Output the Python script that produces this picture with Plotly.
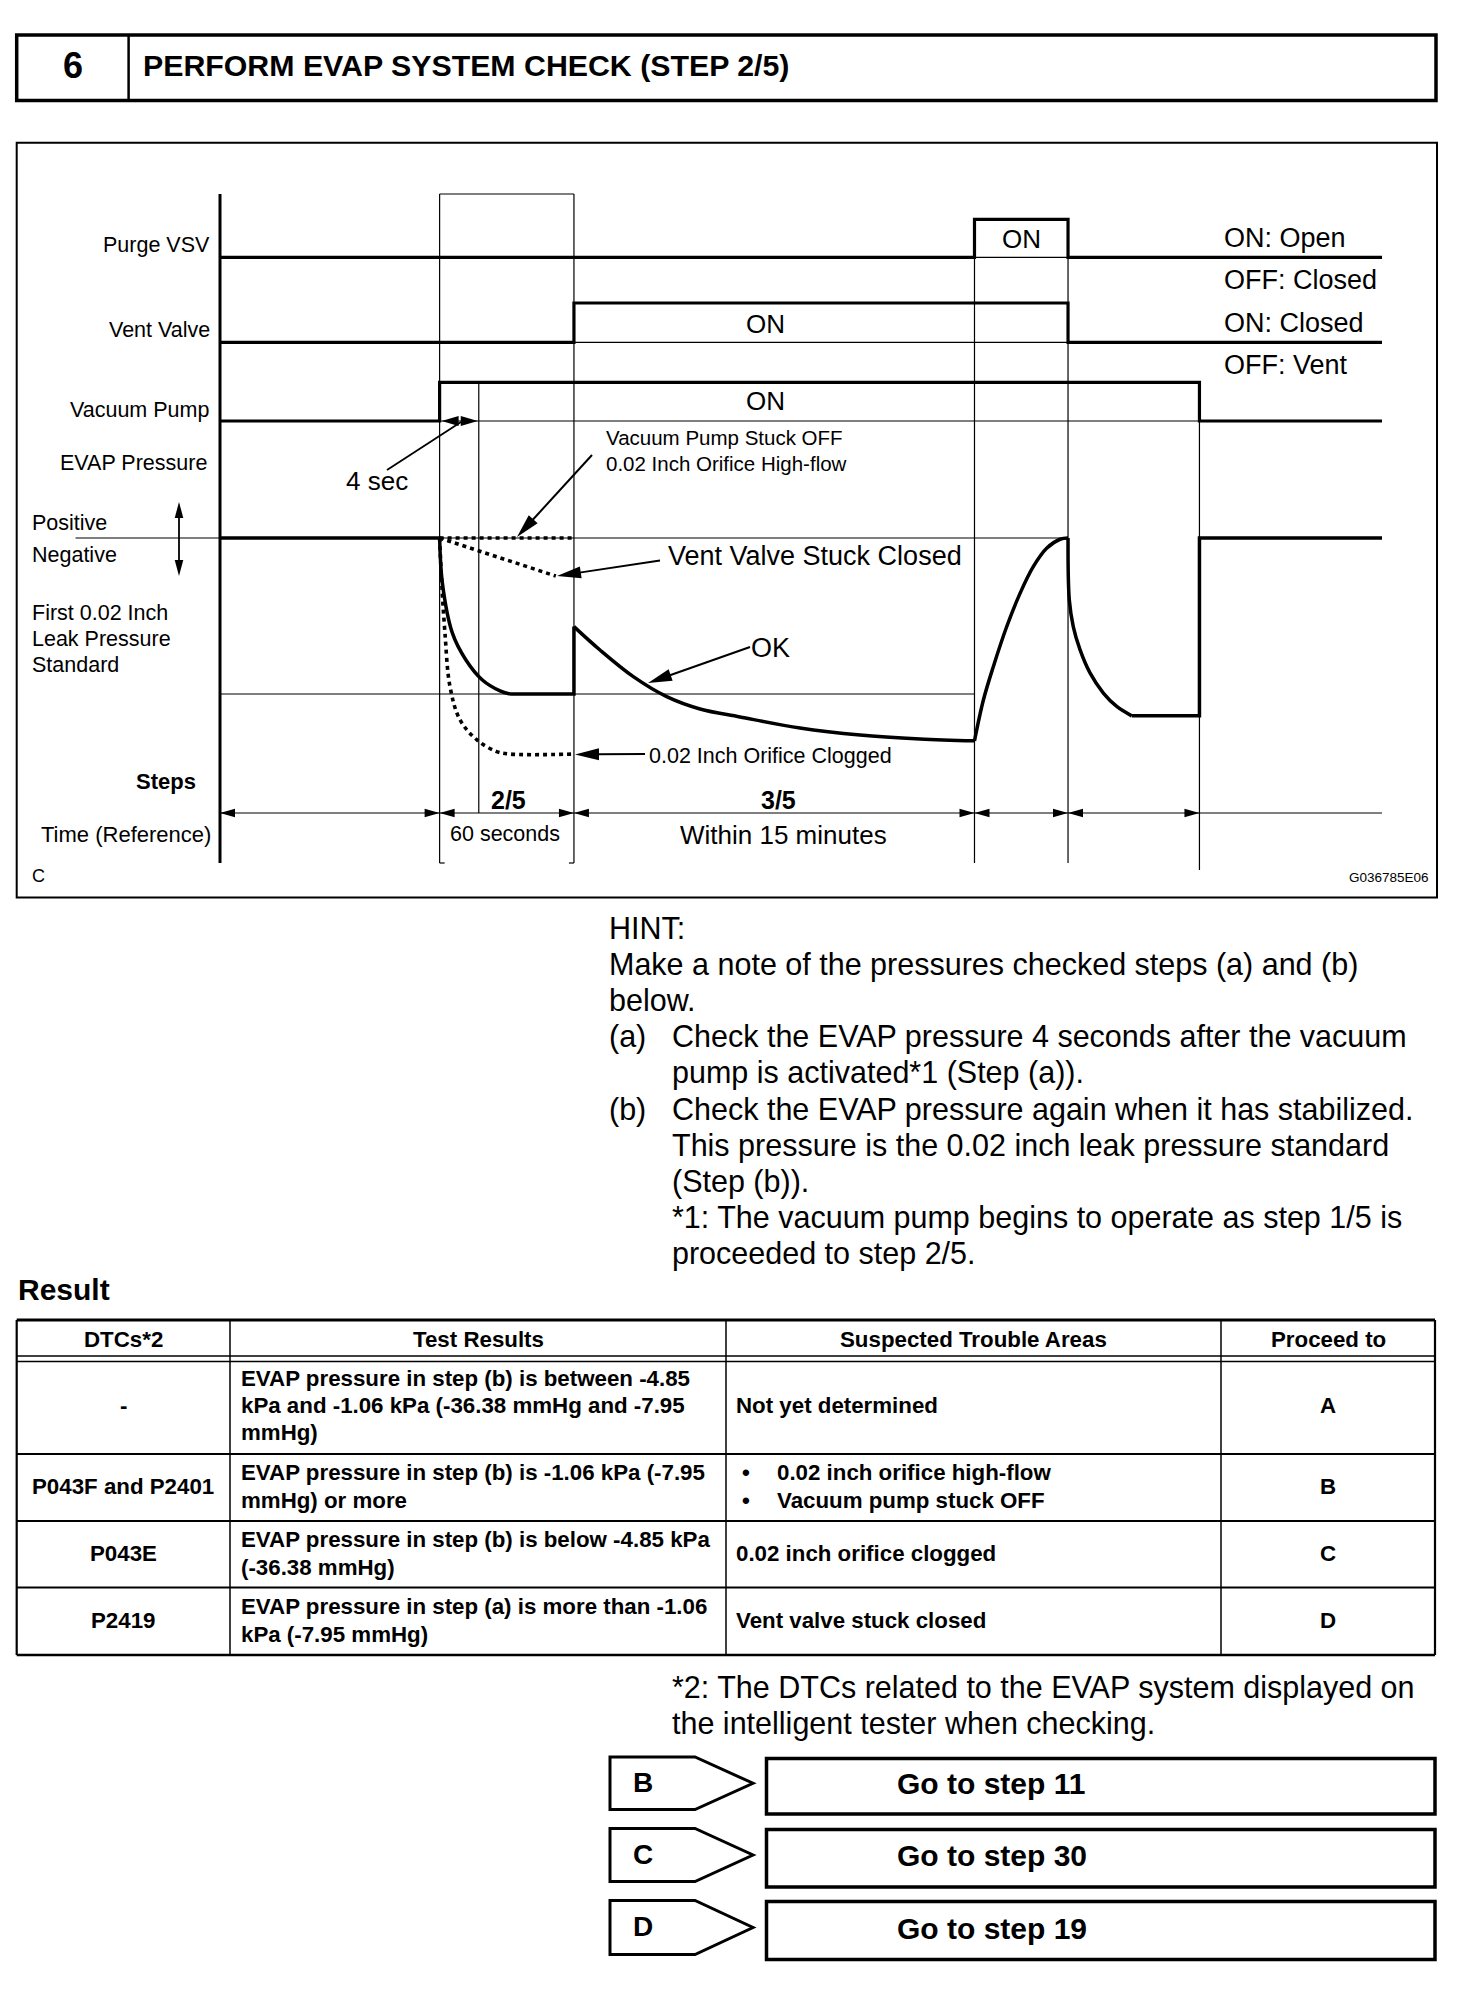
import math
import plotly.graph_objects as go

W, H = 1472, 2016
FONT = "Liberation Sans, Arial, Helvetica, sans-serif"

# ---------------- data ----------------
# schematic time axis of the timing chart (0..100 units, not to scale)
event_names = ["Vacuum pump ON", "+4 sec", "Vent valve ON", "Purge VSV ON",
               "Purge VSV OFF / Vent valve OFF", "Vacuum pump OFF"]
event_t = [18.9, 22.27, 30.46, 64.93, 72.98, 84.29]
t_end = 100.0

purge_t = [0, 64.93, 64.93, 72.98, 72.98, 100]
purge_state = [0, 0, 1, 1, 0, 0]
vent_t = [0, 30.46, 30.46, 72.98, 72.98, 100]
vent_state = [0, 0, 1, 1, 0, 0]
pump_t = [0, 18.9, 18.9, 84.29, 84.29, 100]
pump_state = [0, 0, 1, 1, 0, 0]

# EVAP pressure (relative): 0 = atmospheric, -1 = first 0.02 inch leak pressure standard
leak_standard = -1.0
ok_pre_t = [0, 18.9]
ok_pre_p = [0, 0]
ok_drop_t = [18.9, 19.14, 20.0, 21.15, 22.58, 24.1, 24.96]
ok_drop_p = [0, -0.29, -0.61, -0.78, -0.91, -0.98, -1.0]
ok_hold_t = [24.96, 30.46, 30.46]
ok_hold_p = [-1.0, -1.0, -0.568]
ok_decay_t = [30.46, 32.70, 35.57, 38.44, 41.31, 44.75, 49.91, 55.08, 60.24, 64.93]
ok_decay_p = [-0.568, -0.718, -0.889, -1.017, -1.096, -1.147, -1.218, -1.263, -1.288, -1.30]
ok_rise_t = [64.93, 65.69, 66.55, 67.70, 68.85, 69.99, 71.14, 72.29, 72.98]
ok_rise_p = [-1.30, -1.04, -0.825, -0.569, -0.355, -0.184, -0.066, -0.008, 0]
ok_fall_t = [72.98, 73.09, 73.43, 74.01, 74.87, 76.02, 77.17, 78.46]
ok_fall_p = [0, -0.397, -0.568, -0.716, -0.865, -0.994, -1.08, -1.14]
ok_post_t = [78.46, 84.29, 84.29, 100]
ok_post_p = [-1.14, -1.14, 0, 0]

stuck_off_t = [18.9, 30.46]
stuck_off_p = [0, 0]
vent_stuck_t = [18.9, 28.9]
vent_stuck_p = [0, -0.244]
clogged_t = [18.9, 19.08, 19.36, 19.79, 20.65, 22.09, 23.81, 24.96, 30.46]
clogged_p = [0, -0.288, -0.609, -0.951, -1.165, -1.293, -1.369, -1.385, -1.385]

row_labels = ["Purge VSV", "Vent Valve", "Vacuum Pump", "EVAP Pressure"]
state_notes = ["ON: Open", "OFF: Closed", "ON: Closed", "OFF: Vent"]

hint_lines = [
    ("", "HINT:"),
    ("", "Make a note of the pressures checked steps (a) and (b)"),
    ("", "below."),
    ("(a)", "Check the EVAP pressure 4 seconds after the vacuum"),
    ("", "pump is activated*1 (Step (a))."),
    ("(b)", "Check the EVAP pressure again when it has stabilized."),
    ("", "This pressure is the 0.02 inch leak pressure standard"),
    ("", "(Step (b))."),
    ("", "*1: The vacuum pump begins to operate as step 1/5 is"),
    ("", "proceeded to step 2/5."),
]

table_header = ["DTCs*2", "Test Results", "Suspected Trouble Areas", "Proceed to"]
dtcs = ["-", "P043F and P2401", "P043E", "P2419"]
test_results = [
    ["EVAP pressure in step (b) is between -4.85", "kPa and -1.06 kPa (-36.38 mmHg and -7.95", "mmHg)"],
    ["EVAP pressure in step (b) is -1.06 kPa (-7.95", "mmHg) or more"],
    ["EVAP pressure in step (b) is below -4.85 kPa", "(-36.38 mmHg)"],
    ["EVAP pressure in step (a) is more than -1.06", "kPa (-7.95 mmHg)"],
]
trouble_areas = [
    ["Not yet determined"],
    ["0.02 inch orifice high-flow", "Vacuum pump stuck OFF"],
    ["0.02 inch orifice clogged"],
    ["Vent valve stuck closed"],
]
proceed_to = ["A", "B", "C", "D"]
footnote2 = ["*2: The DTCs related to the EVAP system displayed on",
             "the intelligent tester when checking."]
goto_letters = ["B", "C", "D"]
goto_steps = ["Go to step 11", "Go to step 30", "Go to step 19"]

# ---------------- helpers ----------------
def xp(px):
    return px / W


def yp(py):
    return 1 - py / H


X_L, X_R = 220.0, 1382.0


def tpx(t):
    return X_L + (X_R - X_L) * t / t_end


def domain_for(v1, py1, v2, py2, lo, hi):
    k = (py1 - py2) / (v2 - v1)
    bottom = py1 + (v1 - lo) * k
    top = py1 - (hi - v1) * k
    return [yp(bottom), yp(top)]


shapes, ann = [], []


def line_px(x0, y0, x1, y1, w=1.2):
    shapes.append(dict(type="line", xref="paper", yref="paper", x0=xp(x0), y0=yp(y0),
                       x1=xp(x1), y1=yp(y1), line=dict(color="black", width=w)))


def vline_t(t, y0, y1, w=1.2):
    shapes.append(dict(type="line", xref="x", yref="paper", x0=t, x1=t, y0=yp(y0), y1=yp(y1),
                       line=dict(color="black", width=w)))


def hline_t(t0, t1, v, yref, w=1.2):
    shapes.append(dict(type="line", xref="x", yref=yref, x0=t0, x1=t1, y0=v, y1=v,
                       line=dict(color="black", width=w)))


def rect_px(x0, y0, x1, y1, w):
    shapes.append(dict(type="rect", xref="paper", yref="paper", x0=xp(x0), y0=yp(y0),
                       x1=xp(x1), y1=yp(y1), line=dict(color="black", width=w),
                       fillcolor="rgba(0,0,0,0)"))


def poly_px(pts, w=0, fill="black"):
    path = "M " + " L ".join(f"{xp(x):.6f},{yp(y):.6f}" for x, y in pts) + " Z"
    shapes.append(dict(type="path", xref="paper", yref="paper", path=path,
                       line=dict(color="black", width=w), fillcolor=fill))


def head_px(tip, frm, L=15, hw=4.5):
    dx, dy = tip[0] - frm[0], tip[1] - frm[1]
    d = math.hypot(dx, dy)
    ux, uy = dx / d, dy / d
    bx, by = tip[0] - ux * L, tip[1] - uy * L
    nx, ny = -uy, ux
    poly_px([tip, (bx + nx * hw, by + ny * hw), (bx - nx * hw, by - ny * hw)])


def arrow_px(tail, tip, L=24, hw=6, w=2):
    dx, dy = tip[0] - tail[0], tip[1] - tail[1]
    d = math.hypot(dx, dy)
    end = (tip[0] - dx / d * (L - 3), tip[1] - dy / d * (L - 3))
    line_px(tail[0], tail[1], end[0], end[1], w)
    head_px(tip, tail, L, hw)


def text_px(x, y, s, size, xanchor="left", bold=False, xref="paper"):
    ann.append(dict(x=xp(x) if xref == "paper" else x, y=yp(y), xref=xref, yref="paper",
                    text=f"<b>{s}</b>" if bold else s, showarrow=False,
                    xanchor=xanchor, yanchor="middle",
                    font=dict(size=size, color="black", family=FONT)))


# ---------------- figure ----------------
fig = go.Figure()
THICK = 3.2
line_k = dict(color="black", width=THICK)

fig.add_trace(go.Scatter(x=purge_t, y=purge_state, mode="lines", line=line_k, yaxis="y"))
fig.add_trace(go.Scatter(x=vent_t, y=vent_state, mode="lines", line=line_k, yaxis="y2"))
fig.add_trace(go.Scatter(x=pump_t, y=pump_state, mode="lines", line=line_k, yaxis="y3"))

for tt, pp, shp in [(ok_pre_t, ok_pre_p, "linear"), (ok_drop_t, ok_drop_p, "spline"),
                    (ok_hold_t, ok_hold_p, "linear"), (ok_decay_t, ok_decay_p, "spline"),
                    (ok_rise_t, ok_rise_p, "spline"), (ok_fall_t, ok_fall_p, "spline"),
                    (ok_post_t, ok_post_p, "linear")]:
    fig.add_trace(go.Scatter(x=tt, y=pp, mode="lines", yaxis="y4",
                             line=dict(color="black", width=3.5, shape=shp)))

dot = dict(color="black", width=3.6, dash="4px,4px")
fig.add_trace(go.Scatter(x=stuck_off_t, y=stuck_off_p, mode="lines", line=dot, yaxis="y4"))
fig.add_trace(go.Scatter(x=vent_stuck_t, y=vent_stuck_p, mode="lines", line=dot, yaxis="y4"))
fig.add_trace(go.Scatter(x=clogged_t, y=clogged_p, mode="lines", yaxis="y4",
                         line=dict(dot, shape="spline")))

t1, t2, t3, t4, t5, t6 = event_t

# ---- diagram frame & grid ----
rect_px(16.7, 142.7, 1437, 897.4, 2)
line_px(220, 194, 220, 863, 3)
vline_t(t1, 194, 863)
vline_t(t3, 194, 863)
shapes.append(dict(type="line", xref="x", yref="paper", x0=t1, x1=t3, y0=yp(194), y1=yp(194),
                   line=dict(color="black", width=1.2)))
line_px(tpx(t1), 863, tpx(t1) + 5, 863)
line_px(tpx(t3) - 5, 863, tpx(t3), 863)
vline_t(t2, 382.3, 813)
vline_t(t4, 219.3, 863)
vline_t(t5, 219.3, 863)
vline_t(t6, 382.3, 870)

hline_t(t4, t5, 0, "y")
hline_t(t3, t5, 0, "y2")
hline_t(t1, t6, 0, "y3")
hline_t(t1, t5, 0, "y4")
hline_t(0, t4, leak_standard, "y4")
shapes.append(dict(type="line", xref="paper", yref="y4", x0=xp(75.5), x1=xp(220), y0=0, y1=0,
                   line=dict(color="black", width=1.2)))

# time row
TY = 813
line_px(220, TY, 1382, TY, 1.2)
head_px((220, TY), (240, TY), 15, 4.3)
for tb in [t1, t3, t4, t5]:
    head_px((tpx(tb), TY), (tpx(tb) - 20, TY), 15, 4.3)
    head_px((tpx(tb), TY), (tpx(tb) + 20, TY), 15, 4.3)
head_px((tpx(t6), TY), (tpx(t6) - 20, TY), 15, 4.3)

# 4 sec marker
head_px((tpx(t1) + 2, 421), (tpx(t1) + 20, 421), 17, 5)
head_px((tpx(t2) - 1, 421), (tpx(t2) - 20, 421), 17, 5)
line_px(461, 422, 387, 470, 1.8)

# positive / negative arrow
line_px(179, 512, 179, 566, 1.8)
head_px((179, 502), (179, 540), 16, 4.3)
head_px((179, 576), (179, 540), 16, 4.3)

# callout arrows
arrow_px((592, 455), (517, 537))
arrow_px((660, 560.5), (557, 576))
arrow_px((750, 647), (648, 683))
arrow_px((645, 754), (575, 754.5))

# ---- diagram texts ----
text_px(212, 245.5, row_labels[0], 21.5, "right")
text_px(212, 330, row_labels[1], 21.5, "right")
text_px(211, 410, row_labels[2], 21.5, "right")
text_px(209, 463, row_labels[3], 21.5, "right")
text_px(30, 523, "Positive", 21.5)
text_px(30, 555, "Negative", 21.5)
text_px(30, 613, "First 0.02 Inch", 21.5)
text_px(30, 639, "Leak Pressure", 21.5)
text_px(30, 665, "Standard", 21.5)
text_px(198, 781, "Steps", 22, "right", bold=True)
text_px(213, 834, "Time (Reference)", 22, "right")
text_px(30, 876.5, "C", 18)
text_px(1431, 877.5, "G036785E06", 13.5, "right")

for s, y in zip(state_notes, [238, 280, 323, 365.5]):
    text_px(1222, y, s, 27)

text_px((t4 + t5) / 2, 239, "ON", 26, "center", xref="x")
text_px(765, 324, "ON", 26, "center")
text_px(765, 401, "ON", 26, "center")

text_px(604, 437.5, "Vacuum Pump Stuck OFF", 20.5)
text_px(604, 464, "0.02 Inch Orifice High-flow", 20.5)
text_px(377, 481, "4 sec", 26, "center")
text_px(666, 556, "Vent Valve Stuck Closed", 27)
text_px(749, 648, "OK", 27)
text_px(647, 756, "0.02 Inch Orifice Clogged", 21.5)
text_px((tpx(t1) + tpx(t3)) / 2 + 2, 800, "2/5", 25, "center", bold=True)
text_px(778, 800, "3/5", 25, "center", bold=True)
text_px((tpx(t1) + tpx(t3)) / 2 - 2, 834, "60 seconds", 21.5, "center")
text_px(783, 835, "Within 15 minutes", 26, "center")

# ---- header ----
rect_px(16.7, 35, 1436, 100.5, 3.5)
line_px(128.6, 35, 128.6, 100.5, 2.5)
text_px(73, 65, "6", 36, "center", bold=True)
text_px(140.5, 65.5, "PERFORM EVAP SYSTEM CHECK (STEP 2/5)", 30.3, bold=True)

# ---- hint ----
for i, (lab, s) in enumerate(hint_lines):
    y = 928 + 36.2 * i
    if lab:
        text_px(607, y, lab, 30.5)
    x = 607 if i < 3 else 670
    text_px(x, y, s, 30.5)

# ---- result table ----
text_px(16, 1289.5, "Result", 30, bold=True)
cols = [16.7, 230, 726, 1221, 1435]
rows = [1320, 1454, 1521, 1587.5, 1655]
line_px(cols[0], 1320, cols[-1], 1320, 3)
line_px(cols[0], 1356, cols[-1], 1356, 1.3)
line_px(cols[0], 1361.5, cols[-1], 1361.5, 1.3)
for r in rows[1:-1]:
    line_px(cols[0], r, cols[-1], r, 2.2)
line_px(cols[0], 1655, cols[-1], 1655, 2.5)
line_px(cols[0], 1320, cols[0], 1655, 2.2)
line_px(cols[-1], 1320, cols[-1], 1655, 2.2)
for c in cols[1:-1]:
    line_px(c, 1320, c, 1655, 1.5)

TF = 22.3
centers = [(cols[i] + cols[i + 1]) / 2 for i in range(4)]
for i, h in enumerate(table_header):
    text_px(centers[i], 1339, h, TF, "center", bold=True)

row_lines = [[1378, 1405, 1432], [1472, 1500], [1539, 1567], [1606, 1634]]
row_mid = [1405, 1486, 1553, 1620]
for i in range(4):
    text_px(centers[0], row_mid[i], dtcs[i], TF, "center", bold=True)
    for s, y in zip(test_results[i], row_lines[i]):
        text_px(239, y, s, TF, bold=True)
    ta = trouble_areas[i]
    if len(ta) == 1:
        text_px(734, row_mid[i], ta[0], TF, bold=True)
    else:
        for s, y in zip(ta, row_lines[i]):
            text_px(740, y, "•", TF, bold=True)
            text_px(775, y, s, TF, bold=True)
    text_px(centers[3], row_mid[i], proceed_to[i], TF, "center", bold=True)

text_px(670, 1687.5, footnote2[0], 30.5)
text_px(670, 1723.5, footnote2[1], 30.5)

# ---- go-to boxes ----
pent = [(1757, 1809.5), (1828.5, 1881.5), (1900.5, 1954.5)]
boxes = [(1758.5, 1814), (1829.5, 1887), (1901.5, 1959.5)]
for i in range(3):
    t0, b0 = pent[i]
    mid = (t0 + b0) / 2
    poly_px([(610, t0), (695, t0), (753, mid), (695, b0), (610, b0)], w=3,
            fill="rgba(0,0,0,0)")
    rect_px(766.5, boxes[i][0], 1435, boxes[i][1], 3.5)
    text_px(642.5, mid - 1, goto_letters[i], 28, "center", bold=True)
    text_px(895, (boxes[i][0] + boxes[i][1]) / 2 - 2.5, goto_steps[i], 30, bold=True)

# ---------------- layout ----------------
def hidden(**kw):
    d = dict(visible=False, fixedrange=True, showgrid=False, zeroline=False)
    d.update(kw)
    return d


fig.update_layout(
    width=W, height=H, margin=dict(l=0, r=0, t=0, b=0),
    paper_bgcolor="white", plot_bgcolor="rgba(0,0,0,0)", showlegend=False,
    font=dict(family=FONT, color="black"),
    xaxis=hidden(domain=[xp(X_L), xp(X_R)], range=[0, t_end]),
    yaxis=hidden(anchor="x", range=[-0.3, 1.3], domain=domain_for(0, 257.3, 1, 219.3, -0.3, 1.3)),
    yaxis2=hidden(anchor="x", range=[-0.3, 1.3], domain=domain_for(0, 342.3, 1, 303, -0.3, 1.3)),
    yaxis3=hidden(anchor="x", range=[-0.3, 1.3], domain=domain_for(0, 421, 1, 382.3, -0.3, 1.3)),
    yaxis4=hidden(anchor="x", range=[-1.6, 0.3], domain=domain_for(0, 538, -1, 694, -1.6, 0.3)),
    shapes=shapes, annotations=ann, hovermode=False,
)

fig.write_html("out.html", config={"displayModeBar": False, "staticPlot": True},
               post_script="document.body.style.margin='0';document.body.style.overflow='hidden';")
